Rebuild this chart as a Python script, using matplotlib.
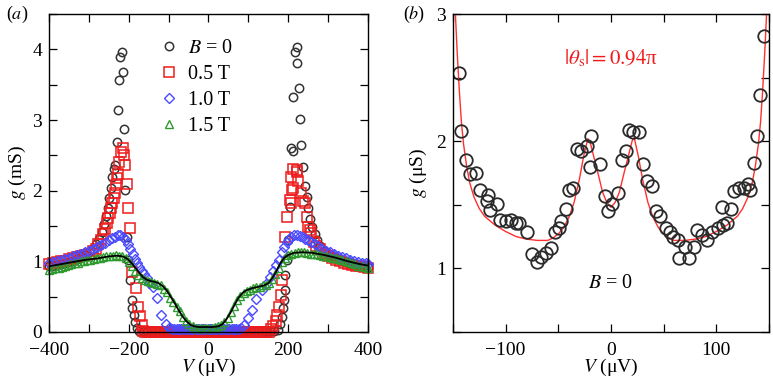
import matplotlib
matplotlib.use("Agg")
import matplotlib.pyplot as plt
from matplotlib.ticker import MultipleLocator

plt.rcParams['font.family'] = ['Liberation Serif', 'DejaVu Serif']
plt.rcParams['mathtext.fontset'] = 'stix'

# ---- panel (a): g(V) at several fields ----
v_b0 = [-400, -390, -380, -370, -360, -350, -340, -330, -320, -310, -300, -290, -282, -275, -268,
        -262, -257, -253, -249, -245, -241, -238, -235, -230, -226, -224, -222, -218, -214, -211,
        -210, -205, -202, -198, -193, -191, -188, -185, -180, -175,
        -165, -155, -145, -135, -125, -115, -105, -95, -85, -75, -65, -55, -45, -35, -25, -15, -5,
        5, 15, 25, 35, 45, 55, 65, 75, 85, 95, 105, 115, 125, 135, 145, 155, 165,
        175, 180, 184, 187, 189, 191, 193, 196, 200, 204, 208, 211, 212, 216, 221, 222, 227, 229,
        233, 237, 242, 246, 250, 255, 260, 266, 272, 280, 290, 300, 310, 320, 330, 340, 350, 360,
        370, 380, 390, 400]
g_b0 = [0.93, 0.94, 0.95, 0.96, 0.98, 0.99, 1.01, 1.03, 1.06, 1.09, 1.13, 1.18, 1.24, 1.32, 1.42,
        1.53, 1.64, 1.76, 1.90, 2.04, 2.20, 2.30, 2.36, 2.69, 3.14, 3.56, 3.89, 3.96, 3.68, 2.87,
        2.01, 1.35, 1.02, 0.74, 0.45, 0.34, 0.24, 0.14, 0.06, 0.02,
        0.01, 0.01, 0.01, 0.01, 0.01, 0.01, 0.01, 0.01, 0.01, 0.01, 0.01, 0.01, 0.01, 0.01, 0.01, 0.01, 0.01,
        0.01, 0.01, 0.01, 0.01, 0.01, 0.01, 0.01, 0.01, 0.01, 0.01, 0.01, 0.01, 0.01, 0.01, 0.01, 0.01, 0.01,
        0.03, 0.12, 0.21, 0.34, 0.45, 0.60, 0.80, 1.02, 1.30, 1.77, 2.60, 2.56, 3.33, 3.96, 4.03, 3.80, 3.45, 3.01,
        2.64, 2.34, 2.06, 1.91, 1.75, 1.60, 1.48, 1.38, 1.30, 1.22, 1.15, 1.10, 1.07, 1.04, 1.02, 1.00, 0.98, 0.96,
        0.95, 0.94, 0.93, 0.92]

v_05 = [-400, -390, -380, -370, -360, -350, -340, -330, -320, -310, -300, -290, -283, -276, -270,
        -264, -259, -255, -251, -247, -244, -242, -238, -235, -232, -229, -226, -224, -219, -215,
        -212, -210, -205, -201, -197, -192, -182, -177, -172, -168, -163,
        -158, -153, -148, -143, -138, -133, -128, -123, -118, -113, -108, -103, -98, -93, -88, -83,
        -78, -73, -68, -63, -58, -53, -48, -43, -38, -33, -28, -23, -18, -13, -8, -3,
        2, 7, 12, 17, 22, 27, 32, 37, 42, 47, 52, 57, 62, 67, 72, 77, 82, 87, 92, 97, 102,
        107, 112, 117, 122, 127, 132, 137, 142, 147, 152,
        157, 162, 169, 172, 177, 183, 185, 191, 196, 204, 206, 208, 210, 211, 212, 221, 223, 225,
        233, 237, 242, 246, 250, 254, 258, 264, 270, 279, 292, 300, 310, 320, 330, 340, 350, 360,
        370, 380, 390, 400]
g_05 = [0.96, 0.98, 0.99, 1.00, 1.01, 1.03, 1.04, 1.06, 1.07, 1.09, 1.10, 1.14, 1.18, 1.24, 1.30,
        1.38, 1.46, 1.54, 1.61, 1.68, 1.76, 1.82, 1.90, 1.96, 2.08, 2.18, 2.24, 2.40, 2.55, 2.60,
        2.50, 2.36, 2.09, 1.75, 1.47, 0.85, 0.62, 0.36, 0.22, 0.10, 0.02,
        0.0, 0.0, 0.0, 0.0, 0.0, 0.0, 0.0, 0.0, 0.0, 0.0, 0.0, 0.0, 0.0, 0.0, 0.0, 0.0,
        0.0, 0.0, 0.0, 0.0, 0.0, 0.0, 0.0, 0.0, 0.0, 0.0, 0.0, 0.0, 0.0, 0.0, 0.0, 0.0,
        0.0, 0.0, 0.0, 0.0, 0.0, 0.0, 0.0, 0.0, 0.0, 0.0, 0.0, 0.0, 0.0, 0.0, 0.0, 0.0, 0.0, 0.0, 0.0, 0.0, 0.0,
        0.0, 0.0, 0.0, 0.0, 0.0, 0.0, 0.0, 0.0, 0.0, 0.0,
        0.04, 0.08, 0.15, 0.24, 0.36, 0.52, 0.74, 1.35, 1.63, 1.87, 1.82, 2.20, 2.01, 2.04, 2.31, 2.27, 2.29, 2.13,
        1.96, 1.85, 1.82, 1.63, 1.49, 1.44, 1.40, 1.27, 1.22, 1.18, 1.11, 1.07, 1.04, 1.02, 1.00, 0.98, 0.96, 0.95,
        0.94, 0.93, 0.92, 0.91]

v_10 = [-400, -390, -380, -370, -360, -350, -340, -330, -320, -310, -300, -290, -280, -270, -260,
        -250, -242, -235, -228, -221, -214, -208, -202, -196, -190, -185, -180, -174, -168, -162,
        -155, -148, -140, -130, -118, -106,
        -98, -92, -86, -80, -74, -68, -62, -56, -50, -44, -38, -32, -26, -20, -14, -8, -2,
        4, 10, 16, 22, 28, 34, 40, 46, 52, 58, 64, 70, 76, 82,
        90, 100, 110, 120, 133, 145, 155, 163, 170, 177, 184, 190, 196, 202, 208, 215, 222, 229,
        236, 243, 250, 258, 266, 275, 285, 295, 305, 315, 325, 335, 345, 355, 365, 375, 385, 395, 400]
g_10 = [0.98, 0.99, 1.00, 1.02, 1.03, 1.05, 1.07, 1.09, 1.11, 1.13, 1.15, 1.17, 1.20, 1.23, 1.26,
        1.30, 1.33, 1.35, 1.37, 1.37, 1.35, 1.30, 1.24, 1.18, 1.10, 1.03, 0.98, 0.92, 0.87, 0.82,
        0.76, 0.70, 0.64, 0.48, 0.24, 0.12,
        0.05, 0.04, 0.04, 0.04, 0.04, 0.04, 0.04, 0.04, 0.04, 0.04, 0.04, 0.04, 0.04, 0.04, 0.04, 0.04, 0.04,
        0.04, 0.04, 0.04, 0.04, 0.04, 0.04, 0.04, 0.04, 0.04, 0.04, 0.04, 0.04, 0.04, 0.05,
        0.10, 0.20, 0.31, 0.46, 0.60, 0.68, 0.78, 0.87, 0.95, 1.02, 1.13, 1.20, 1.27, 1.32, 1.35, 1.37, 1.37, 1.36,
        1.34, 1.32, 1.30, 1.27, 1.24, 1.21, 1.18, 1.15, 1.13, 1.10, 1.08, 1.06, 1.04, 1.02, 1.00, 0.99, 0.98, 0.97, 0.96]

v_15 = [-400, -392, -384, -376, -368, -360, -352, -344, -336, -328, -320, -312, -304, -296, -288,
        -280, -272, -264, -256, -248, -240, -232, -224, -216, -208, -200, -192, -184, -176, -168,
        -160, -152, -144, -136, -128, -120, -112, -104, -96, -88, -80, -72, -64, -56, -48, -40,
        -32, -24, -16, -8, 0, 8, 16, 24, 32, 40, 48, 56, 64, 72, 80, 88, 96, 104, 112, 120,
        128, 136, 144, 152, 160, 168, 176, 184, 192, 200, 208, 216, 224, 232, 240, 248, 256, 264,
        272, 280, 288, 296, 304, 312, 320, 328, 336, 344, 352, 360, 368, 376, 384, 392, 400]
g_15 = [0.88, 0.89, 0.90, 0.91, 0.92, 0.94, 0.95, 0.96, 0.97, 0.98, 1.00, 1.01, 1.02, 1.02, 1.03,
        1.04, 1.05, 1.06, 1.07, 1.07, 1.08, 1.09, 1.08, 1.07, 1.04, 0.99, 0.93, 0.87, 0.81, 0.77,
        0.74, 0.72, 0.71, 0.70, 0.68, 0.66, 0.61, 0.56, 0.48, 0.42, 0.36, 0.29, 0.21, 0.15, 0.11, 0.08,
        0.06, 0.06, 0.06, 0.06, 0.06, 0.06, 0.07, 0.08, 0.10, 0.14, 0.20, 0.28, 0.37, 0.45, 0.51, 0.55, 0.58, 0.60, 0.62, 0.63,
        0.64, 0.66, 0.67, 0.70, 0.75, 0.82, 0.91, 0.99, 1.05, 1.09, 1.11, 1.12, 1.13, 1.13, 1.13, 1.12, 1.11, 1.10,
        1.10, 1.09, 1.08, 1.07, 1.06, 1.05, 1.04, 1.03, 1.02, 1.00, 0.99, 0.97, 0.96, 0.94, 0.93, 0.92, 0.90]

v_fit_a = [-400, -370, -340, -310, -280, -250, -230, -215, -205, -195, -185, -175, -165, -155, -145,
           -135, -125, -115, -105, -95, -85, -75, -65, -55, -45, -35, -25, -10, 0, 10, 25, 35, 45,
           55, 65, 75, 85, 95, 110, 125, 140, 150, 160, 170, 180, 190, 200, 215, 235, 260, 290,
           320, 350, 380, 400]
g_fit_a = [0.93, 0.96, 0.99, 1.02, 1.04, 1.07, 1.08, 1.07, 1.04, 0.99, 0.92, 0.85, 0.78, 0.74, 0.72,
           0.71, 0.69, 0.65, 0.59, 0.50, 0.41, 0.31, 0.22, 0.15, 0.10, 0.08, 0.07, 0.07, 0.07, 0.07, 0.08, 0.11, 0.18,
           0.27, 0.38, 0.48, 0.55, 0.59, 0.62, 0.64, 0.66, 0.69, 0.76, 0.86, 0.97, 1.05, 1.09, 1.12, 1.13, 1.12, 1.09,
           1.05, 1.00, 0.96, 0.94]

# ---- panel (b): B = 0, small bias ----
v_b = [-144.5, -142, -137.5, -134, -128, -124, -117, -118, -114.5, -108, -105, -100, -95, -90, -87,
       -80, -75, -70, -66, -61.5, -57, -53, -49, -47, -42.5, -40, -35.6, -32, -28, -23, -19, -20,
       -10, -6, -2.5, 0.6, 7, 10, 14, 17, 21, 27, 30.6, 34, 38.5, 43, 47, 52, 56, 59, 64, 65, 70,
       74, 78.5, 82, 86, 91, 96, 101.6, 106, 110, 105.7, 113.6, 117, 122, 126, 130, 132, 136, 139,
       141.6, 145.7]
g_b = [2.54, 2.08, 1.85, 1.74, 1.75, 1.62, 1.58, 1.53, 1.46, 1.51, 1.38, 1.37, 1.38, 1.36, 1.36,
       1.29, 1.11, 1.05, 1.09, 1.12, 1.16, 1.29, 1.32, 1.37, 1.47, 1.62, 1.63, 1.94, 1.92, 1.96, 2.04, 1.80,
       1.82, 1.57, 1.45, 1.51, 1.59, 1.85, 1.92, 2.09, 2.07, 2.07, 1.82, 1.69, 1.65, 1.45, 1.41, 1.32, 1.29, 1.25, 1.22, 1.08, 1.17,
       1.08, 1.17, 1.30, 1.26, 1.22, 1.29, 1.32, 1.34, 1.36, 1.48, 1.47, 1.61, 1.63, 1.63, 1.66, 1.62, 1.83, 2.04,
       2.36, 2.83]

v_fit_b = [-148, -146, -144, -142, -140, -137, -134, -130, -125, -120, -110, -100, -90, -80, -70, -60,
           -55, -50, -45, -40, -35, -30, -26, -22, -20, -17, -13, -8, -4, 0, 4, 8, 13, 17, 20, 22, 26,
           30, 35, 40, 45, 50, 55, 60, 70, 80, 90, 100, 110, 120, 125, 130, 134, 137, 140, 142, 144, 146, 148]
g_fit_b = [3.05, 2.70, 2.40, 2.15, 1.98, 1.80, 1.67, 1.56, 1.47, 1.41, 1.34, 1.29, 1.25, 1.23, 1.22, 1.22,
           1.24, 1.27, 1.32, 1.40, 1.52, 1.70, 1.88, 2.02, 2.00, 1.90, 1.77, 1.60, 1.52, 1.48, 1.52, 1.60, 1.77, 1.90, 2.00, 2.03, 1.88,
           1.70, 1.52, 1.40, 1.32, 1.27, 1.24, 1.22, 1.22, 1.23, 1.25, 1.29, 1.34, 1.41, 1.47, 1.56, 1.67, 1.80, 1.98, 2.15, 2.40, 2.70, 3.05]

fig = plt.figure(figsize=(7.73, 3.83), dpi=100)
ax1 = fig.add_axes([0.0634, 0.1332, 0.4126, 0.8302])
ax2 = fig.add_axes([0.586, 0.1332, 0.4088, 0.8302])

ax1.plot(v_b0, g_b0, 'o', ms=6, mfc='none', mec='#333333', mew=1.1, clip_on=False, label='$B$ = 0')
ax1.plot(v_05, g_05, 's', ms=6.5, mfc='none', mec='#ee1c1c', mew=1.1, clip_on=False, label='0.5 T')
ax1.plot(v_10, g_10, 'D', ms=5, mfc='none', mec='#4a4aff', mew=1.0, clip_on=False, label='1.0 T')
ax1.plot(v_15, g_15, '^', ms=5.5, mfc='none', mec='#2f9a2f', mew=1.0, clip_on=False, label='1.5 T')
ax1.plot(v_fit_a, g_fit_a, '-', color='black', lw=1.3)

ax1.set_xlim(-400, 400)
ax1.set_ylim(0, 4.5)
ax1.xaxis.set_major_locator(MultipleLocator(200))
ax1.xaxis.set_minor_locator(MultipleLocator(100))
ax1.yaxis.set_major_locator(MultipleLocator(1))
ax1.yaxis.set_minor_locator(MultipleLocator(0.5))
ax1.set_xlabel('$V$ (μV)', fontsize=14, labelpad=-1)
ax1.set_ylabel('$g$ (mS)', fontsize=14, labelpad=3)
leg = ax1.legend(loc='upper left', bbox_to_anchor=(0.30, 0.965), frameon=False, fontsize=14.5,
                 handlelength=1.0, handletextpad=0.45, labelspacing=0.33, borderpad=0.2)

ax2.plot(v_fit_b, g_fit_b, '-', color='#ff3030', lw=1.0)
ax2.plot(v_b, g_b, 'o', ms=9, mfc='none', mec='#2a2a2a', mew=1.3)
ax2.set_xlim(-150, 150)
ax2.set_ylim(0.5, 3)
ax2.xaxis.set_major_locator(MultipleLocator(100))
ax2.xaxis.set_minor_locator(MultipleLocator(50))
ax2.yaxis.set_major_locator(MultipleLocator(1))
ax2.yaxis.set_minor_locator(MultipleLocator(0.5))
ax2.set_xlabel('$V$ (μV)', fontsize=14, labelpad=-1)
ax2.set_ylabel('$g$ (μS)', fontsize=14, labelpad=5)
ax2.text(0, 2.65, r'$|\theta_\mathrm{s}| = 0.94$π', color='#ee1c1c', fontsize=15, ha='center', va='center')
ax2.text(0, 0.88, '$B$ = 0', color='black', fontsize=14.5, ha='center', va='center')

for ax in (ax1, ax2):
    ax.tick_params(which='both', direction='in', top=True, right=True, labelsize=14, width=0.9)
    ax.tick_params(which='major', length=6, pad=5)
    ax.tick_params(which='minor', length=6)
    ax.tick_params(axis='x', which='major', pad=7)
    for s in ax.spines.values():
        s.set_linewidth(1.0)

fig.text(0.008, 0.963, '($a$)', fontsize=13, ha='left', va='center')
fig.text(0.521, 0.963, '($b$)', fontsize=13, ha='left', va='center')

fig.savefig('out.png', dpi=100)
